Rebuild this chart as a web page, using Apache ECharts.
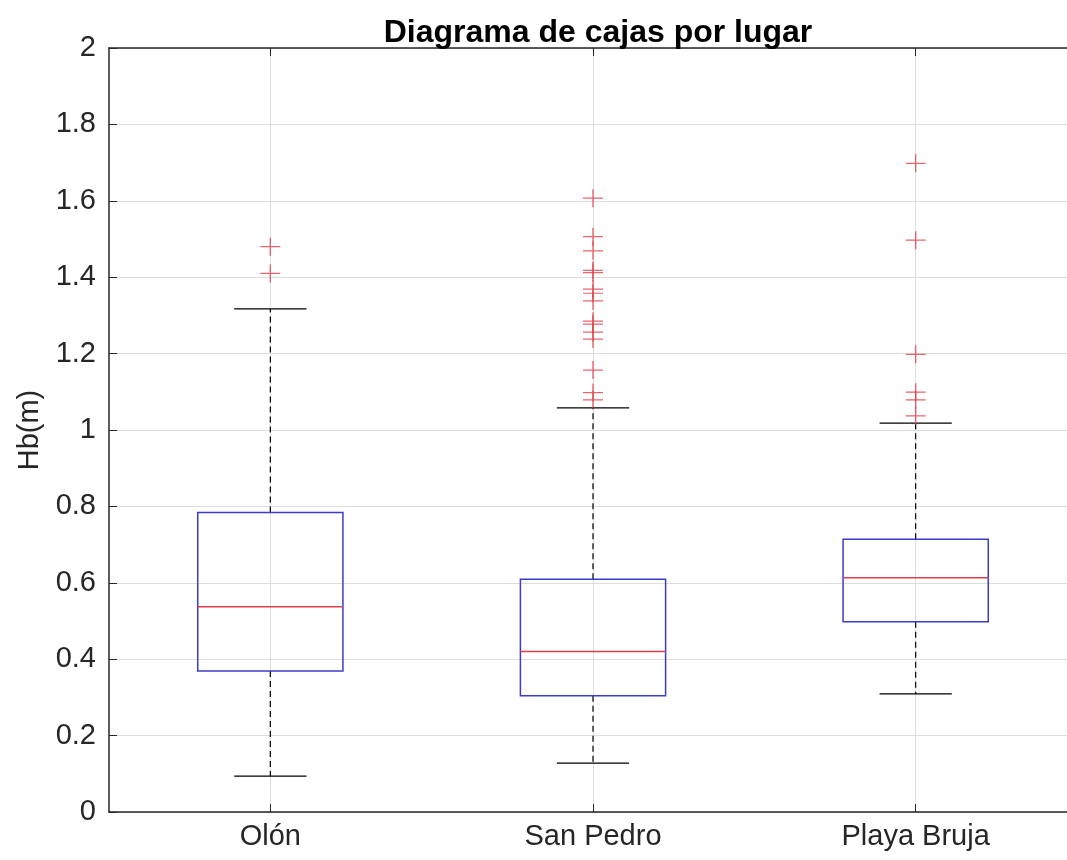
<!DOCTYPE html>
<html>
<head>
<meta charset="utf-8">
<script src="https://cdn.jsdelivr.net/npm/echarts@6/dist/echarts.min.js"></script>
<style>
  html, body { margin: 0; padding: 0; background: #fff; overflow: hidden; width: 1067px; height: 860px; }
  /* the axes box runs past the right edge of the page, so the canvas is wider than the view */
  #chart { width: 1085px; height: 860px; }
</style>
</head>
<body>
<div id="chart"></div>
<script>
// Wave height statistics per site
const categories = ['Olón', 'San Pedro', 'Playa Bruja'];
const lowerWhisker = [0.094, 0.128, 0.309];
const q1 = [0.369, 0.304, 0.498];
const median = [0.537, 0.420, 0.613];
const q3 = [0.784, 0.609, 0.714];
const upperWhisker = [1.317, 1.058, 1.018];
const outliersOlon = [1.48, 1.41];
const outliersSanPedro = [1.607, 1.506, 1.469, 1.418, 1.412, 1.369, 1.358, 1.338, 1.285, 1.277, 1.256, 1.238, 1.157, 1.098, 1.079];
const outliersPlayaBruja = [1.698, 1.497, 1.198, 1.099, 1.079, 1.037];
const yTicks = [0, 0.2, 0.4, 0.6, 0.8, 1, 1.2, 1.4, 1.6, 1.8, 2];

const boxData = categories.map((c, i) => [i, lowerWhisker[i], q1[i], median[i], q3[i], upperWhisker[i]]);
const outlierData = [];
[outliersOlon, outliersSanPedro, outliersPlayaBruja].forEach((arr, i) => {
  arr.forEach(v => outlierData.push([i, v]));
});

const textColor = '#262626';
const fontFamily = '"Liberation Sans", Arial, Helvetica, sans-serif';
const labelSize = 29;

function renderBox(params, api) {
  const x = api.value(0);
  const pLow = api.coord([x, api.value(1)]);
  const pQ1 = api.coord([x, api.value(2)]);
  const pMed = api.coord([x, api.value(3)]);
  const pQ3 = api.coord([x, api.value(4)]);
  const pHigh = api.coord([x, api.value(5)]);
  const band = api.size([1, 0])[0];
  const halfBox = band * 0.225;
  const halfCap = band * 0.112;
  const cx = pMed[0];
  const whiskerStyle = { stroke: '#000', lineWidth: 1.2, lineDash: [6, 4] };
  const capStyle = { stroke: '#000', lineWidth: 1.2 };
  return {
    type: 'group',
    children: [
      { type: 'line', shape: { x1: cx, y1: pQ3[1], x2: cx, y2: pHigh[1] }, style: whiskerStyle },
      { type: 'line', shape: { x1: cx, y1: pQ1[1], x2: cx, y2: pLow[1] }, style: whiskerStyle },
      { type: 'line', shape: { x1: cx - halfCap, y1: pHigh[1], x2: cx + halfCap, y2: pHigh[1] }, style: capStyle },
      { type: 'line', shape: { x1: cx - halfCap, y1: pLow[1], x2: cx + halfCap, y2: pLow[1] }, style: capStyle },
      { type: 'rect', shape: { x: cx - halfBox, y: pQ3[1], width: halfBox * 2, height: pQ1[1] - pQ3[1] },
        style: { fill: 'none', stroke: '#3c3cc8', lineWidth: 1.5 } },
      { type: 'line', shape: { x1: cx - halfBox, y1: pMed[1], x2: cx + halfBox, y2: pMed[1] },
        style: { stroke: '#e0404a', lineWidth: 1.5 } }
    ]
  };
}

const chart = echarts.init(document.getElementById('chart'), null, { renderer: 'canvas' });
chart.setOption({
  animation: false,
  backgroundColor: '#fff',
  title: {
    text: 'Diagrama de cajas por lugar',
    left: 593, top: 12, textAlign: 'center',
    textStyle: { fontFamily, fontSize: 32, fontWeight: 'bold', color: '#000' }
  },
  grid: { left: 109, right: 8, top: 48, bottom: 48 },
  xAxis: [{
    type: 'category',
    data: categories,
    boundaryGap: true,
    axisLine: { show: true, lineStyle: { color: '#262626', width: 1.5 } },
    axisTick: { show: true, inside: true, alignWithLabel: true, length: 8, lineStyle: { color: '#262626' } },
    axisLabel: { color: textColor, fontFamily, fontSize: labelSize, margin: 10 },
    splitLine: { show: true, alignWithLabel: true, lineStyle: { color: '#dedede', width: 1 } }
  }, {
    type: 'category',
    data: categories,
    position: 'top',
    boundaryGap: true,
    axisLine: { show: true, lineStyle: { color: '#262626', width: 1.5 } },
    axisTick: { show: true, inside: true, alignWithLabel: true, length: 8, lineStyle: { color: '#262626' } },
    axisLabel: { show: false },
    splitLine: { show: false }
  }],
  yAxis: {
    type: 'value',
    min: 0, max: 2, interval: 0.2,
    name: 'Hb(m)',
    nameLocation: 'middle',
    nameRotate: 90,
    nameGap: 65,
    nameTextStyle: { color: textColor, fontFamily, fontSize: labelSize },
    axisLine: { show: true, lineStyle: { color: '#262626', width: 1.5 } },
    axisTick: { show: true, inside: true, length: 8, lineStyle: { color: '#262626' } },
    axisLabel: {
      color: textColor, fontFamily, fontSize: labelSize, margin: 13,
      formatter: v => {
        const t = yTicks.find(k => Math.abs(k - v) < 1e-9);
        return t === undefined ? '' : String(Math.round(t * 10) / 10);
      }
    },
    splitLine: { show: true, lineStyle: { color: '#dedede', width: 1 } }
  },
  series: [{
    type: 'custom',
    name: 'boxes',
    renderItem: renderBox,
    encode: { x: 0, y: [1, 2, 3, 4, 5] },
    data: boxData,
    z: 3
  }, {
    type: 'scatter',
    name: 'outliers',
    data: outlierData,
    symbol: 'path://M10,0L10,20M0,10L20,10',
    symbolSize: [20, 18],
    itemStyle: { color: 'none', borderColor: '#e0404a', borderWidth: 1.3 },
    z: 4
  }]
});
</script>
</body>
</html>
